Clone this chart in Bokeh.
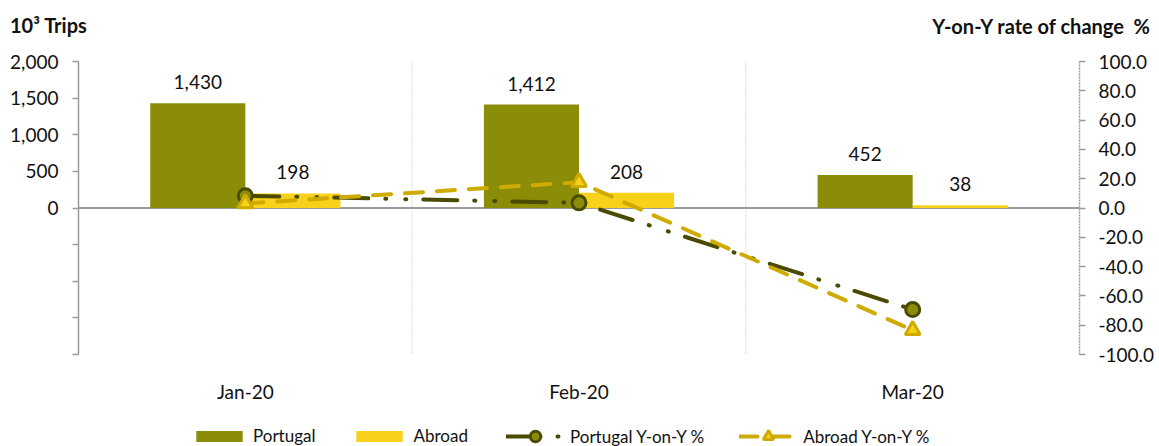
from bokeh.plotting import figure
from bokeh.layouts import column
from bokeh.models import (ColumnDataSource, FactorRange, Range1d, LinearAxis, FixedTicker,
                          NumeralTickFormatter, Span, Legend, LegendItem, Div)
from bokeh.transform import dodge
from bokeh.core.properties import value
from bokeh.embed import file_html
from bokeh.resources import INLINE

# ---- data ----
months = ["Jan-20", "Feb-20", "Mar-20"]
portugal = [1430, 1412, 452]
abroad = [198, 208, 38]
portugal_yoy = [8.4, 3.5, -69.3]
abroad_yoy = [3.1, 17.6, -83.4]
left_ticks = [-2000, -1500, -1000, -500, 0, 500, 1000, 1500, 2000]
right_ticks = [-100, -80, -60, -40, -20, 0, 20, 40, 60, 80, 100]
left_title = "10³ Trips"
right_title = "Y-on-Y rate of change  %"
series_names = ["Portugal", "Abroad", "Portugal Y-on-Y %", "Abroad Y-on-Y %"]

FONT = "Lato"
TXT = "#111111"
AX = "#9a9a9a"
C_PT = "#8b8c07"
C_AB = "#f7d11a"
C_PT_LINE = "#4a4b00"
C_AB_LINE = "#cfab00"
W = 1159
BL, BR = 78, 80

src = ColumnDataSource(dict(
    month=months, portugal=portugal, abroad=abroad,
    portugal_yoy=portugal_yoy, abroad_yoy=abroad_yoy,
    portugal_lbl=[f"{v:,}" for v in portugal],
    abroad_lbl=[f"{v:,}" for v in abroad],
))

# ---------- top strip: axis titles ----------
TOP_H = 49
title_html = (
    f'<div style="position:relative;width:{W}px;height:{TOP_H}px;font-family:Lato;'
    f'font-weight:bold;font-size:20px;line-height:24px;color:{TXT};white-space:pre;">'
    f'<span style="position:absolute;left:10px;top:13px;">{left_title}</span>'
    f'<span style="position:absolute;right:9px;top:14px;">{right_title}</span></div>'
)
top = Div(text=title_html, width=W, height=TOP_H, margin=0)

# ---------- main chart ----------
p = figure(x_range=FactorRange(*months, range_padding=0), y_range=Range1d(-2000, 2000),
           width=W, height=361, output_backend="svg", toolbar_location=None,
           min_border_left=BL, min_border_right=BR, min_border_top=12, min_border_bottom=56,
           outline_line_color=None)
p.extra_y_ranges = {"pct": Range1d(-100, 100)}
p.xgrid.visible = False
p.ygrid.visible = False

ya = p.yaxis[0]
ya.ticker = FixedTicker(ticks=left_ticks)
ya.formatter = NumeralTickFormatter(format="0,0")
ya.major_label_overrides = {t: "" for t in left_ticks if t < 0}
ya.axis_line_color = AX
ya.axis_line_width = 1.5
ya.major_tick_line_color = AX
ya.major_tick_line_width = 1.5
ya.major_tick_out = 6
ya.major_tick_in = 0
ya.minor_tick_line_color = None
ya.major_label_standoff = 14
ya.major_label_text_font = FONT
ya.major_label_text_font_size = "19px"
ya.major_label_text_color = TXT

ra = LinearAxis(y_range_name="pct", ticker=FixedTicker(ticks=right_ticks),
                formatter=NumeralTickFormatter(format="0.0"))
ra.axis_line_color = AX
ra.axis_line_width = 1.5
ra.axis_line_dash = "2 1"
ra.major_tick_line_color = AX
ra.major_tick_line_width = 1.5
ra.major_tick_out = 6
ra.major_tick_in = 0
ra.minor_tick_line_color = None
ra.major_label_standoff = 13
ra.major_label_text_font = FONT
ra.major_label_text_font_size = "19px"
ra.major_label_text_color = TXT
p.add_layout(ra, "right")

xa = p.xaxis[0]
xa.axis_line_color = None
xa.major_tick_line_color = None
xa.major_label_standoff = 19
xa.major_label_text_font = FONT
xa.major_label_text_font_size = "19px"
xa.major_label_text_color = TXT

for i in range(1, len(months)):
    p.add_layout(Span(location=i, dimension="height", line_color="#b8b8b8",
                      line_width=1, line_dash="1 2"))
p.add_layout(Span(location=0, dimension="width", line_color=AX, line_width=2, level="underlay"))

bar_w = 0.285
bar_style_pt = dict(fill_color=C_PT, line_color=None)
bar_style_ab = dict(fill_color=C_AB, line_color=None)
line_style_pt = dict(line_color=C_PT_LINE, line_width=4, line_dash="34 17 1 19 1 17",
                     line_cap="round")
line_style_ab = dict(line_color=C_AB_LINE, line_width=4, line_dash="18 14", line_cap="round")
mk_style_pt = dict(marker="circle", size=14, fill_color=C_PT, line_color=C_PT_LINE, line_width=3)
mk_style_ab = dict(marker="triangle", size=15, fill_color=C_AB, line_color=C_AB_LINE,
                   line_width=3)

p.vbar(x=dodge("month", -bar_w / 2, range=p.x_range), top="portugal", width=bar_w,
       source=src, **bar_style_pt)
p.vbar(x=dodge("month", bar_w / 2, range=p.x_range), top="abroad", width=bar_w,
       source=src, **bar_style_ab)

p.text(x=dodge("month", -bar_w / 2, range=p.x_range), y="portugal", text="portugal_lbl",
       source=src, y_offset=-21, text_align="center", text_baseline="middle",
       text_font=value(FONT), text_font_size="19px", text_color=TXT)
p.text(x=dodge("month", bar_w / 2, range=p.x_range), y="abroad", text="abroad_lbl",
       source=src, y_offset=-21, text_align="center", text_baseline="middle",
       text_font=value(FONT), text_font_size="19px", text_color=TXT)

p.line(x="month", y="portugal_yoy", source=src, y_range_name="pct", **line_style_pt)
p.line(x="month", y="abroad_yoy", source=src, y_range_name="pct", **line_style_ab)
p.scatter(x="month", y="portugal_yoy", source=src, y_range_name="pct", **mk_style_pt)
p.scatter(x="month", y="abroad_yoy", source=src, y_range_name="pct", **mk_style_ab)

# ---------- bottom strip: legend ----------
# legend keys are drawn from the same data, placed outside this strip's visible range
BOT_H = 36
bot = figure(width=W, height=BOT_H, x_range=FactorRange(*months),
             y_range=Range1d(10 * max(portugal), 11 * max(portugal)),
             x_axis_type=None, y_axis_type=None, output_backend="svg", toolbar_location=None,
             min_border_left=BL, min_border_right=BR, min_border_top=0, min_border_bottom=0,
             outline_line_color=None)
bot.grid.visible = False
g_pt = bot.vbar(x="month", top="portugal", width=0.3, source=src, **bar_style_pt)
g_ab = bot.vbar(x="month", top="abroad", width=0.3, source=src, **bar_style_ab)
gl_pt = bot.line(x="month", y="portugal_yoy", source=src, **line_style_pt)
gs_pt = bot.scatter(x="month", y="portugal_yoy", source=src, **mk_style_pt)
gl_ab = bot.line(x="month", y="abroad_yoy", source=src, **line_style_ab)
gs_ab = bot.scatter(x="month", y="abroad_yoy", source=src, **mk_style_ab)

common = dict(orientation="horizontal", padding=0, margin=0, spacing=35,
              border_line_color=None, background_fill_alpha=0,
              label_text_font=FONT, label_text_font_size="17px", label_text_color=TXT)
leg_bars = Legend(items=[
    LegendItem(label=series_names[0], renderers=[g_pt]),
    LegendItem(label=series_names[1], renderers=[g_ab]),
], location=(190 - BL, 0), glyph_width=58, glyph_height=14, label_standoff=5, **common)
leg_lines = Legend(items=[
    LegendItem(label=series_names[2], renderers=[gl_pt, gs_pt]),
    LegendItem(label=series_names[3], renderers=[gl_ab, gs_ab]),
], location=(506 - BL, -3), glyph_width=58, glyph_height=26, label_standoff=6, **common)
bot.add_layout(leg_bars)
bot.add_layout(leg_lines)

layout = column(top, p, bot, spacing=0)
open("out.html", "w").write(file_html(layout, INLINE))
